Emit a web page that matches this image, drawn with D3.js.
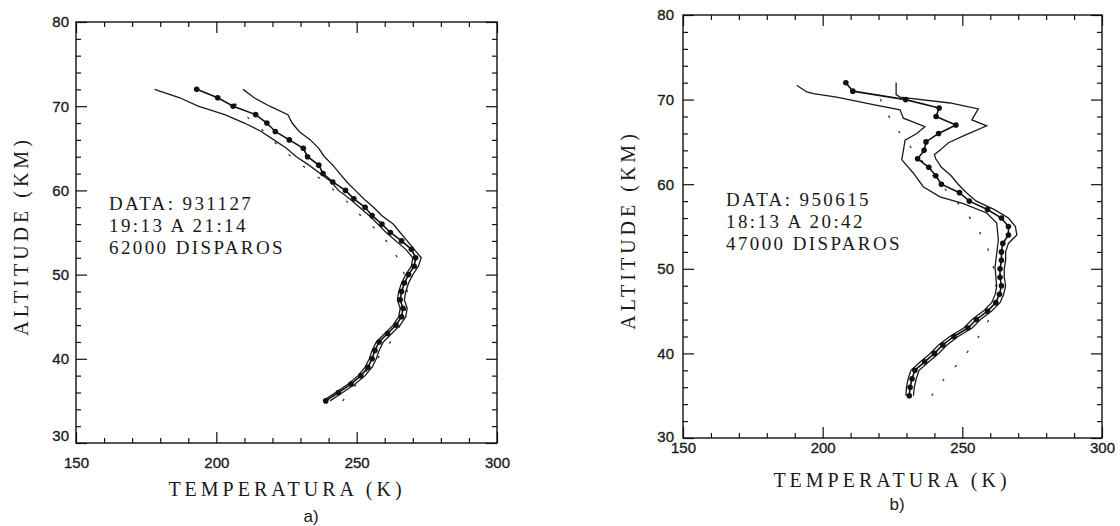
<!DOCTYPE html>
<html lang="pt">
<head>
<meta charset="utf-8">
<title>Perfis de temperatura</title>
<style>
  body {margin: 0; background: #fff;}
  svg {display: block;}
  .frame {fill: none; stroke: #111; stroke-width: 1.4px;}
  .tick line {stroke: #111; stroke-width: 1.2px;}
  .tick text {font-family: "Liberation Sans", Arial, sans-serif; font-size: 15px; fill: #1a1a1a; stroke: #1a1a1a; stroke-width: 0.35px;}
  .title {font-family: "Liberation Serif", "Times New Roman", serif; font-size: 20px; fill: #1a1a1a; letter-spacing: 4px;}
  .note {font-family: "Liberation Serif", "Times New Roman", serif; font-size: 19px; fill: #1a1a1a; letter-spacing: 2.4px;}
  .letter {font-family: "Liberation Sans", Arial, sans-serif; font-size: 17px; fill: #1a1a1a;}
  .bound {fill: none; stroke: #1a1a1a; stroke-width: 1.3px;}
  .mean {fill: none; stroke: #111; stroke-width: 1.6px;}
  .ref {fill: none; stroke: #333; stroke-width: 1.3px; stroke-dasharray: 2.5 16;}
  .dot {fill: #111;}
</style>
<script src="https://d3js.org/d3.v7.min.js"></script>
</head>
<body>
<script>
// axes
var tempDomain = [150, 300];
var altDomain = [30, 80];
var xMajor = [150, 200, 250, 300];
var xMinor = [160, 170, 180, 190, 210, 220, 230, 240, 260, 270, 280, 290];
var yMajor = [30, 40, 50, 60, 70, 80];
var yMinor = [32, 34, 36, 38, 42, 44, 46, 48, 52, 54, 56, 58, 62, 64, 66, 68, 72, 74, 76, 78];

// a) 931127
var altMeanA = [35, 36, 37, 38, 39, 40, 41, 42, 43, 44, 45, 46, 47, 48, 49, 50, 51, 52, 53, 54,
                55, 56, 57, 58, 59, 60, 61, 62, 63, 64, 65, 66, 67, 68, 69, 70, 71, 72];
var tempMeanA = [239, 243.5, 248, 251.5, 254, 255.5, 256.5, 258, 261, 264, 266, 266.5, 265.5, 266, 267, 268.5, 270.5, 271, 269.5, 266,
                 262, 259, 255.5, 253, 249, 246, 241.5, 238, 236.5, 232.5, 231, 226, 221, 218, 214, 206, 200.5, 193];
var altHiA = altMeanA;
var tempHiA = [240.5, 245, 249.5, 253, 255.5, 257, 258, 259.5, 262.5, 265.5, 267.5, 268, 267, 267.5, 268.5, 270, 272, 273, 270.5, 268,
               265.5, 263, 259, 256, 252.5, 249.5, 246.5, 244, 241.5, 238.5, 236.5, 233.5, 229.5, 227, 225.5, 219, 213.5, 209.5];
var altLoA = altMeanA;
var tempLoA = [238, 242.5, 247, 250.5, 253, 254.5, 255.5, 257, 260, 263, 265, 265.5, 264.5, 265, 266, 267.5, 269.5, 270, 267.5, 264,
               260.5, 257.5, 254.5, 251, 247.5, 243.5, 241, 237, 233, 228.5, 225, 220.5, 216, 210, 203, 193.5, 187, 178];
var altRefA = [35, 37, 39, 41, 43, 45, 47, 49, 51, 53, 55, 57, 59, 61, 63, 65, 67, 69, 71];
var tempRefA = [245, 250, 254.5, 260, 264, 267, 268, 268, 266, 263, 258, 251.5, 245.5, 238.5, 230.5, 223, 217, 210, 205];
var noteA = ["DATA: 931127", "19:13 A 21:14", "62000 DISPAROS"];

// b) 950615
var altMeanB = [35, 36, 37, 38, 39, 40, 41, 42, 43, 44, 45, 46, 47, 48, 49, 50, 51, 52, 53, 54,
                55, 56, 57, 58, 59, 60, 61, 62, 63, 64, 65, 66, 67, 68, 69, 70, 71, 72];
var tempMeanB = [231, 231.3, 232, 233, 236.5, 240, 243, 247, 252, 255, 259, 262, 263.3, 264, 263.5, 263.5, 264, 264, 264.5, 266.5,
                 266.5, 264, 259, 252.5, 249, 242.5, 240.5, 238, 234, 236.3, 237, 241.5, 247.7, 240.6, 241.7, 229.7, 210.8, 208.3];
var altHiB = [35, 36, 37, 38, 39, 40, 41, 42, 43, 44, 45, 46, 47, 48, 49, 50, 51, 52, 53, 54,
              55, 56, 57, 58, 59, 60, 61, 62, 63, 63.5, 64, 64.9, 65.8, 66.9, 67.6, 68.9, 69.6, 70.3, 70.6, 72];
var tempHiB = [232.5, 232.8, 233.5, 234.5, 238, 241.5, 244.5, 248.5, 253.5, 256.5, 260.5, 263.5, 264.8, 265.5, 265, 265, 265.5, 265.5, 266.5, 269.5,
               269, 266.5, 261.5, 255, 251.5, 248.5, 246, 242.5, 240.5, 240, 242, 245, 251, 258.7, 253.4, 255.7, 245.6, 227.7, 226.3, 226.3];
var altLoB = [35, 36, 37, 38, 39, 40, 41, 42, 43, 44, 45, 46, 47, 47.9, 50.2, 53.4, 55.4, 56.6, 57.7, 58.5,
              59.7, 61.3, 62.9, 64.0, 65.2, 66.0, 66.8, 67.8, 68.8, 69.4, 70.3, 70.7, 70.9, 71.7];
var tempLoB = [229.8, 230, 230.6, 231.6, 235, 238.5, 241.5, 245.5, 250.5, 253.5, 257.5, 260.5, 261.8, 262.3, 261.7, 262.9, 262.3, 258.7, 250.4, 242,
               236, 232.5, 228.3, 228.9, 229.5, 233.7, 236.6, 228.9, 227.7, 218.1, 205, 196.7, 194.3, 190.7];
var altRefB = [35, 37, 39, 41, 43, 45, 47, 49, 51, 53, 55, 57, 59, 61, 63, 65, 67, 69, 71];
var tempRefB = [239, 243.5, 249, 253.8, 258, 261, 262, 262, 260.5, 258.5, 255, 250.5, 245, 239.5, 235, 230, 225.5, 222, 219.5];
var noteB = ["DATA: 950615", "18:13 A 20:42", "47000 DISPAROS"];

var svg = d3.select("body").append("svg")
  .attr("width", 1120)
  .attr("height", 526);

function drawPanel(cfg, s) {
  var x = d3.scaleLinear().domain(tempDomain).range([cfg.left, cfg.right]);
  var y = d3.scaleLinear().domain(altDomain).range([cfg.bottom, cfg.top]);
  var g = svg.append("g");

  // ticks, all pointing inward
  function axis(gen, tx, ty, vals, len, pad, labels) {
    var a = gen.tickValues(vals).tickSize(-len).tickPadding(pad);
    if (!labels) a.tickFormat("");
    var sel = g.append("g").attr("transform", "translate(" + tx + "," + ty + ")").call(a);
    sel.select(".domain").remove();
    return sel;
  }
  axis(d3.axisBottom(x), 0, cfg.bottom, xMajor, 11, cfg.xPad, true);
  axis(d3.axisBottom(x), 0, cfg.bottom, xMinor, 5, 0, false);
  axis(d3.axisTop(x), 0, cfg.top, xMajor, 11, 0, false);
  axis(d3.axisTop(x), 0, cfg.top, xMinor, 5, 0, false);
  var ly = axis(d3.axisLeft(y), cfg.left, 0, yMajor, 11, cfg.yPad, true);
  axis(d3.axisLeft(y), cfg.left, 0, yMinor, 5, 0, false);
  axis(d3.axisRight(y), cfg.right, 0, yMajor, 11, 0, false);
  axis(d3.axisRight(y), cfg.right, 0, yMinor, 5, 0, false);
  ly.selectAll("text").filter(function(d) { return d === 30; }).attr("dy", cfg.dy30);

  g.append("rect").attr("class", "frame")
    .attr("x", x(150)).attr("y", y(80))
    .attr("width", x(300) - x(150))
    .attr("height", y(30) - y(80));

  var line = d3.line().x(function(d) { return x(d[0]); }).y(function(d) { return y(d[1]); });

  g.append("path").attr("class", "ref").attr("d", line(d3.zip(s.tRef, s.aRef)));
  g.append("path").attr("class", "bound").attr("d", line(d3.zip(s.tLo, s.aLo)));
  g.append("path").attr("class", "bound").attr("d", line(d3.zip(s.tHi, s.aHi)));
  g.append("path").attr("class", "mean").attr("d", line(d3.zip(s.tMean, s.aMean)));
  g.append("g").selectAll("circle")
    .data(d3.zip(s.tMean, s.aMean))
    .enter().append("circle")
    .attr("class", "dot")
    .attr("cx", function(d) { return x(d[0]); })
    .attr("cy", function(d) { return y(d[1]); })
    .attr("r", 2.8);

  // labels
  g.append("text").attr("class", "title")
    .attr("text-anchor", "middle")
    .attr("transform", "translate(" + cfg.ylabX + "," + cfg.ylabY + ") rotate(-90)")
    .text("ALTITUDE (KM)");
  g.append("text").attr("class", "title")
    .attr("text-anchor", "middle")
    .attr("x", cfg.xlabX).attr("y", cfg.xlabY)
    .text("TEMPERATURA (K)");
  g.append("text").attr("class", "letter")
    .attr("text-anchor", "middle")
    .attr("x", cfg.letX).attr("y", cfg.letY)
    .text(cfg.letter);
  g.append("g").selectAll("text")
    .data(s.note)
    .enter().append("text")
    .attr("class", "note")
    .attr("x", cfg.noteX)
    .attr("y", function(d, i) { return cfg.noteY + i * 22; })
    .text(function(d) { return d; });
}

drawPanel(
  {left: 76, right: 497, top: 22, bottom: 443, xPad: 14, yPad: 7, dy30: "-0.15em",
   ylabX: 28, ylabY: 236, xlabX: 287, xlabY: 496, letX: 311, letY: 522, letter: "a)",
   noteX: 109, noteY: 210},
  {aMean: altMeanA, tMean: tempMeanA, aHi: altHiA, tHi: tempHiA, aLo: altLoA, tLo: tempLoA,
   aRef: altRefA, tRef: tempRefA, note: noteA});

drawPanel(
  {left: 683, right: 1102, top: 15, bottom: 438, xPad: 4, yPad: 9, dy30: "0.2em",
   ylabX: 635, ylabY: 230, xlabX: 892, xlabY: 487, letX: 897, letY: 510, letter: "b)",
   noteX: 726, noteY: 206},
  {aMean: altMeanB, tMean: tempMeanB, aHi: altHiB, tHi: tempHiB, aLo: altLoB, tLo: tempLoB,
   aRef: altRefB, tRef: tempRefB, note: noteB});
</script>
</body>
</html>
